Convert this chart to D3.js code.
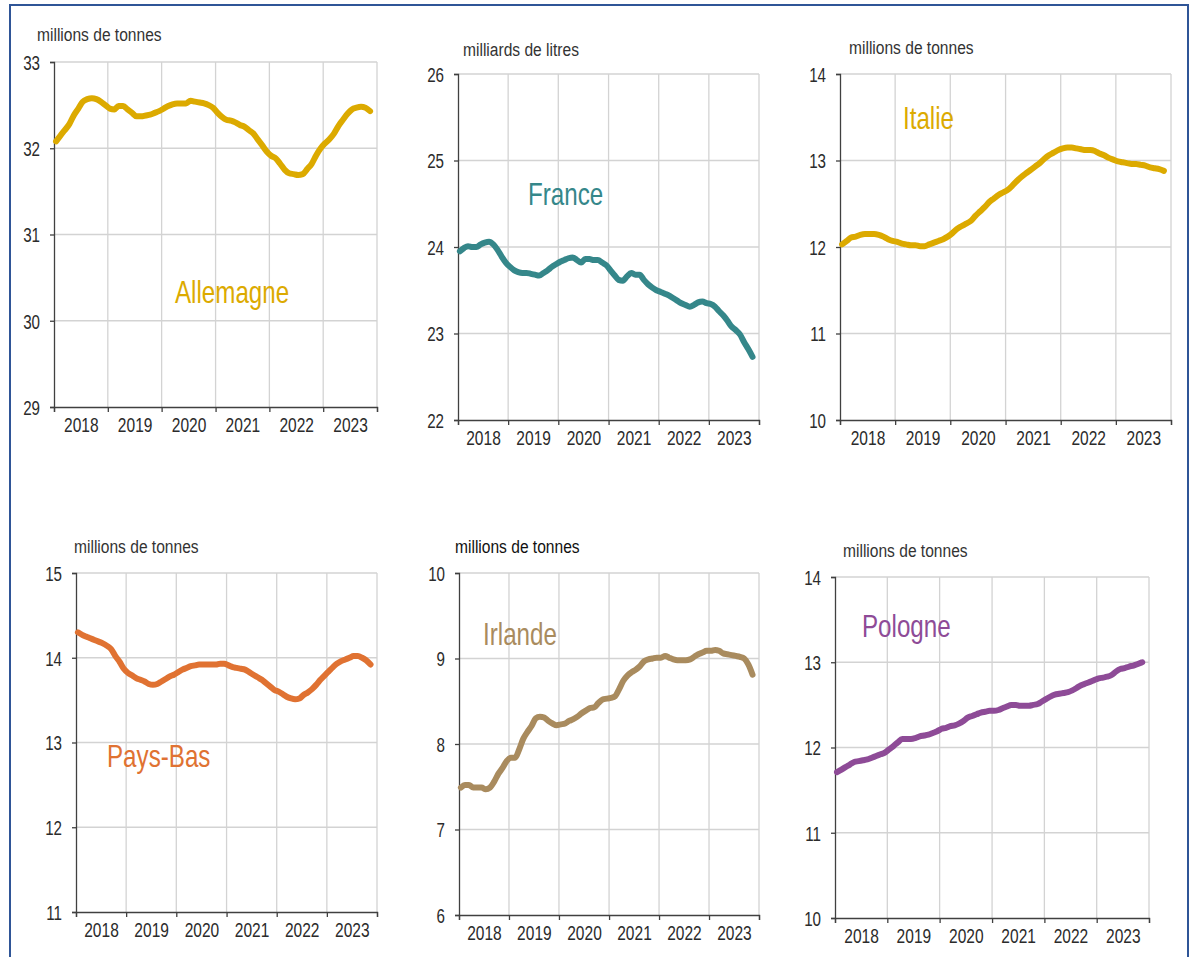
<!DOCTYPE html>
<html>
<head>
<meta charset="utf-8">
<script src="https://cdn.jsdelivr.net/npm/d3@7"></script>
<style>
  html, body { margin: 0; padding: 0; background: #fff; }
  svg { display: block; font-family: 'Liberation Sans', Arial, sans-serif; }
</style>
</head>
<body>
<div id="chart"></div>
<script>
// monthly values, Jan 2018 -> Nov 2023 (12-month rolling totals)
const years = [2018, 2019, 2020, 2021, 2022, 2023]
const months = d3.range(71).map(i => new Date(2018, i, 15))

const allemagne = [
  32.08, 32.15, 32.21, 32.28, 32.38, 32.46, 32.54, 32.57, 32.58, 32.57, 32.54, 32.50,
  32.46, 32.45, 32.49, 32.49, 32.45, 32.41, 32.37, 32.37, 32.38, 32.39, 32.41, 32.43,
  32.46, 32.49, 32.51, 32.52, 32.52, 32.52, 32.55, 32.54, 32.53, 32.52, 32.50, 32.47,
  32.41, 32.36, 32.33, 32.32, 32.30, 32.27, 32.25, 32.21, 32.17, 32.10, 32.03, 31.96,
  31.91, 31.88, 31.82, 31.75, 31.71, 31.70, 31.69, 31.70, 31.76, 31.82, 31.92, 32.00,
  32.06, 32.11, 32.17, 32.26, 32.33, 32.40, 32.45, 32.47, 32.48, 32.47, 32.43
]
const france = [
  23.95, 23.99, 24.01, 24.00, 24.00, 24.03, 24.05, 24.06, 24.03, 23.97, 23.89, 23.82,
  23.77, 23.73, 23.71, 23.70, 23.70, 23.69, 23.68, 23.67, 23.70, 23.73, 23.77, 23.80,
  23.83, 23.85, 23.87, 23.88, 23.85, 23.82, 23.86, 23.86, 23.85, 23.85, 23.82, 23.79,
  23.73, 23.67, 23.62, 23.61, 23.66, 23.70, 23.68, 23.68, 23.62, 23.57, 23.53, 23.50,
  23.48, 23.46, 23.44, 23.41, 23.38, 23.35, 23.33, 23.31, 23.33, 23.36, 23.37, 23.35,
  23.34, 23.31, 23.26, 23.21, 23.15, 23.08, 23.04, 22.99, 22.90, 22.82, 22.73
]
const italie = [
  12.03, 12.07, 12.11, 12.12, 12.14, 12.15, 12.15, 12.15, 12.14, 12.12, 12.09, 12.07,
  12.06, 12.04, 12.03, 12.02, 12.02, 12.01, 12.01, 12.03, 12.05, 12.07, 12.09, 12.12,
  12.16, 12.21, 12.24, 12.27, 12.30, 12.36, 12.41, 12.46, 12.52, 12.56, 12.60, 12.63,
  12.66, 12.71, 12.76, 12.81, 12.85, 12.89, 12.93, 12.97, 13.02, 13.06, 13.09, 13.12,
  13.14, 13.15, 13.15, 13.14, 13.13, 13.12, 13.12, 13.11, 13.08, 13.06, 13.03, 13.01,
  12.99, 12.98, 12.97, 12.96, 12.96, 12.95, 12.94, 12.92, 12.91, 12.90, 12.88
]
const paysBas = [
  14.30, 14.27, 14.25, 14.23, 14.21, 14.19, 14.17, 14.14, 14.10, 14.02, 13.95, 13.87,
  13.82, 13.79, 13.76, 13.74, 13.72, 13.69, 13.68, 13.69, 13.72, 13.75, 13.78, 13.80,
  13.83, 13.86, 13.88, 13.90, 13.91, 13.92, 13.92, 13.92, 13.92, 13.92, 13.93, 13.93,
  13.91, 13.89, 13.88, 13.87, 13.86, 13.83, 13.80, 13.77, 13.74, 13.70, 13.66, 13.62,
  13.60, 13.57, 13.54, 13.52, 13.51, 13.52, 13.56, 13.59, 13.63, 13.68, 13.74, 13.79,
  13.84, 13.89, 13.93, 13.96, 13.98, 14.00, 14.02, 14.02, 14.00, 13.97, 13.92
]
const irlande = [
  7.49, 7.52, 7.52, 7.49, 7.49, 7.49, 7.47, 7.49, 7.56, 7.65, 7.72, 7.80,
  7.84, 7.84, 7.93, 8.06, 8.14, 8.21, 8.30, 8.32, 8.31, 8.27, 8.24, 8.22,
  8.23, 8.24, 8.27, 8.29, 8.32, 8.36, 8.39, 8.42, 8.43, 8.48, 8.52, 8.53,
  8.54, 8.56, 8.64, 8.74, 8.80, 8.84, 8.87, 8.91, 8.97, 8.99, 9.00, 9.01,
  9.01, 9.03, 9.01, 8.99, 8.98, 8.98, 8.98, 8.99, 9.02, 9.05, 9.07, 9.09,
  9.09, 9.10, 9.09, 9.06, 9.05, 9.04, 9.03, 9.02, 9.00, 8.93, 8.81
]
const pologne = [
  11.71, 11.74, 11.77, 11.80, 11.83, 11.84, 11.85, 11.86, 11.88, 11.90, 11.92, 11.94,
  11.98, 12.02, 12.06, 12.10, 12.10, 12.10, 12.11, 12.13, 12.14, 12.15, 12.17, 12.19,
  12.22, 12.23, 12.25, 12.26, 12.28, 12.31, 12.35, 12.37, 12.39, 12.41, 12.42, 12.43,
  12.43, 12.44, 12.46, 12.48, 12.50, 12.50, 12.49, 12.49, 12.49, 12.50, 12.51, 12.54,
  12.57, 12.60, 12.62, 12.63, 12.64, 12.65, 12.67, 12.70, 12.73, 12.75, 12.77, 12.79,
  12.81, 12.82, 12.83, 12.85, 12.89, 12.92, 12.93, 12.95, 12.96, 12.98, 13.00
]

// layout for the 6 small multiples
const panels = [
  { name: 'Allemagne', unit: 'millions de tonnes', values: allemagne, domain: [29, 33],
    color: '#dcaa00', left: 54, right: 377, top: 62, bottom: 407, title: [37, 41], label: [175, 303] },
  { name: 'France', unit: 'milliards de litres', values: france, domain: [22, 26],
    color: '#35878a', left: 458, right: 759, top: 74, bottom: 420, title: [463, 56], label: [528, 205] },
  { name: 'Italie', unit: 'millions de tonnes', values: italie, domain: [10, 14],
    color: '#dcaa00', left: 840, right: 1171, top: 74, bottom: 420, title: [849, 54], label: [903, 129] },
  { name: 'Pays-Bas', unit: 'millions de tonnes', values: paysBas, domain: [11, 15],
    color: '#e07232', left: 76, right: 377, top: 573, bottom: 912, title: [74, 553], label: [107, 767] },
  { name: 'Irlande', unit: 'millions de tonnes', values: irlande, domain: [6, 10],
    color: '#a98b5e', left: 459, right: 759, top: 573, bottom: 915, title: [455, 553], label: [483, 645] },
  { name: 'Pologne', unit: 'millions de tonnes', values: pologne, domain: [10, 14],
    color: '#8e4b97', left: 835, right: 1149, top: 577, bottom: 918, title: [843, 557], label: [862, 637] }
]

const W = 1201, H = 957
const svg = d3.select('#chart').append('svg').attr('width', W).attr('height', H)

// blue frame
svg.append('rect')
  .attr('x', 10).attr('y', 5).attr('width', 1178).attr('height', 960)
  .attr('fill', 'none').attr('stroke', '#2f5597').attr('stroke-width', 2)

const squeeze = s => `scale(${s},1)`

panels.forEach(p => {
  const g = svg.append('g')
  const x = d3.scaleTime()
    .domain([new Date(2018, 0, 1), new Date(2024, 0, 1)])
    .range([p.left, p.right])
  const y = d3.scaleLinear().domain(p.domain).range([p.bottom, p.top])

  const yTicks = d3.range(p.domain[0], p.domain[1] + 1)
  const yearStarts = d3.range(2018, 2025).map(yr => new Date(yr, 0, 1))

  // grid
  g.append('g').selectAll('line.h')
    .data(yTicks.slice(1))
    .join('line')
    .attr('x1', p.left).attr('x2', p.right)
    .attr('y1', d => y(d)).attr('y2', d => y(d))
    .attr('stroke', '#d3d3d3').attr('stroke-width', 1.3)
  g.append('g').selectAll('line.v')
    .data(yearStarts.slice(1))
    .join('line')
    .attr('x1', d => x(d)).attr('x2', d => x(d))
    .attr('y1', p.top).attr('y2', p.bottom)
    .attr('stroke', '#d3d3d3').attr('stroke-width', 1.3)

  // y axis
  const yAxis = g.append('g')
    .attr('transform', `translate(${p.left},0)`)
    .call(d3.axisLeft(y).tickValues(yTicks).tickSize(4).tickFormat(d3.format('d')))
  yAxis.select('.domain').attr('stroke', '#404040').attr('stroke-width', 1.3)
  yAxis.selectAll('.tick line').attr('stroke', '#404040').attr('stroke-width', 1.3)
  yAxis.selectAll('.tick text')
    .attr('x', 0).attr('dy', '0.36em')
    .attr('transform', `translate(-14,0) ${squeeze(0.74)}`)
    .attr('font-size', 20.5).attr('fill', '#2b2b2b')
    .attr('font-family', "'Liberation Sans', Arial, sans-serif")

  // x axis: ticks at year boundaries
  const xAxis = g.append('g')
    .attr('transform', `translate(0,${p.bottom})`)
    .call(d3.axisBottom(x).tickValues(yearStarts).tickSize(5).tickFormat(''))
  xAxis.select('.domain').attr('stroke', '#404040').attr('stroke-width', 1.3)
  xAxis.selectAll('.tick line').attr('stroke', '#404040').attr('stroke-width', 1.3)

  // year labels centred in each year
  const xLabels = g.append('g')
    .attr('transform', `translate(0,${p.bottom})`)
    .call(d3.axisBottom(x).tickValues(years.map(yr => new Date(yr, 6, 2)))
      .tickSize(0).tickFormat(d3.timeFormat('%Y')))
  xLabels.select('.domain').remove()
  xLabels.selectAll('.tick text')
    .attr('y', 0).attr('dy', 0)
    .attr('transform', `translate(0,25) ${squeeze(0.74)}`)
    .attr('font-size', 21).attr('fill', '#2b2b2b')
    .attr('font-family', "'Liberation Sans', Arial, sans-serif")

  // series
  const line = d3.line()
    .x((d, i) => x(months[i]))
    .y(d => y(d))
    .curve(d3.curveMonotoneX)
  g.append('path')
    .datum(p.values)
    .attr('d', line)
    .attr('fill', 'none')
    .attr('stroke', p.color)
    .attr('stroke-width', 6)
    .attr('stroke-linejoin', 'round')
    .attr('stroke-linecap', 'round')

  // unit title
  g.append('text')
    .attr('transform', `translate(${p.title[0]},${p.title[1]}) ${squeeze(0.82)}`)
    .attr('font-size', 19)
    .attr('fill', p.name === 'Irlande' ? '#111' : '#333')
    .text(p.unit)

  // country label
  g.append('text')
    .attr('transform', `translate(${p.label[0]},${p.label[1]}) ${squeeze(0.78)}`)
    .attr('font-size', 31)
    .attr('fill', p.color)
    .text(p.name)
})
</script>
</body>
</html>
